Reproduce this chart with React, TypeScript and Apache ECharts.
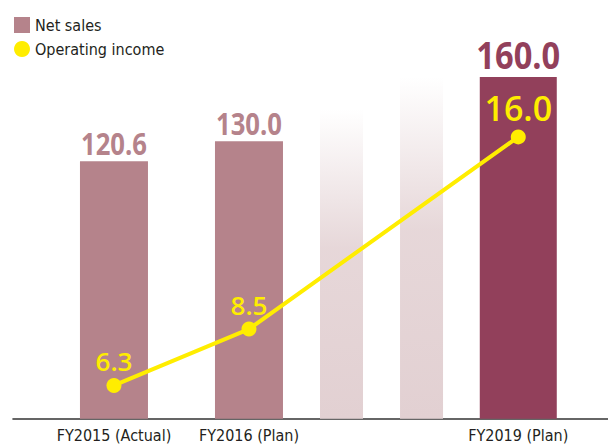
import React, { useEffect, useRef } from "react";
import * as echarts from "echarts";

// ---- data ----
const categories = ["FY2015 (Actual)", "FY2016 (Plan)", "FY2017", "FY2018", "FY2019 (Plan)"];
const axisLabels = ["FY2015 (Actual)", "FY2016 (Plan)", "", "", "FY2019 (Plan)"];
const netSales = [120.6, 130.0, 145, 160, 160.0];
const netSalesLabels = ["120.6", "130.0", "", "", "160.0"];
const operatingIncome: (number | null)[] = [6.3, 8.5, null, null, 16.0];

// ---- layout / style (not data) ----
const slotPositions = [16.97, 39.66, 55.21, 68.66, 84.92];
const barWidths = [68, 68, 43, 43, 77];
const PINK = "#b5838b";
const DARK = "#92405b";
const FADE = "#e2d0d2";
const YELLOW = "#ffed00";
const fadeFill = {
  type: "linear",
  x: 0,
  y: 0,
  x2: 0,
  y2: 1,
  colorStops: [
    { offset: 0, color: "rgba(226,208,210,0)" },
    { offset: 0.45, color: "rgba(226,208,210,0.85)" },
    { offset: 1, color: FADE },
  ],
};
const barFills: any[] = [PINK, PINK, fadeFill, fadeFill, DARK];
const barLabelColors = [PINK, PINK, PINK, PINK, DARK];
const barLabelSizes = [29.5, 29.5, 29.5, 29.5, 37.5];
const barLabelGaps = [3, 3, 3, 3, 4];
const lineLabelSizes = [26, 26, 26, 26, 34];
const NUM_FONT = "'Open Sans', 'Noto Sans', sans-serif";
const TEXT_FONT = "'DejaVu Sans Condensed', 'DejaVu Sans', sans-serif";

export default function App() {
  const ref = useRef<HTMLDivElement>(null);

  useEffect(() => {
    if (!ref.current) return;
    const chart = echarts.init(ref.current, null, { renderer: "svg" });

    const barData = netSales.map((v, i) => [slotPositions[i], v, i]);
    const lineData = operatingIncome
      .map((v, i) => ({ v, i }))
      .filter((d) => d.v !== null)
      .map((d) => ({
        value: [slotPositions[d.i], d.v as number],
        label: { fontSize: lineLabelSizes[d.i] },
      }));

    chart.setOption({
      animation: false,
      legend: {
        orient: "vertical",
        left: 14,
        top: 17,
        padding: 0,
        itemWidth: 16,
        itemHeight: 16,
        itemGap: 8,
        textStyle: { fontFamily: TEXT_FONT, fontSize: 16, color: "#231f20" },
        data: [
          { name: "Net sales", icon: "rect" },
          { name: "Operating income", icon: "circle" },
        ],
      },
      grid: { left: 13, right: 0, top: 34.4, bottom: 28.3 },
      xAxis: {
        type: "value",
        min: 0,
        max: 100,
        splitLine: { show: false },
        axisTick: { show: false },
        axisLine: { show: true, onZero: false, lineStyle: { color: "#333", width: 1.6 } },
        axisLabel: {
          customValues: slotPositions.filter((_, i) => axisLabels[i] !== ""),
          formatter: (val: number) => {
            const idx = slotPositions.findIndex((p) => Math.abs(p - val) < 1e-6);
            return idx >= 0 ? axisLabels[idx] : "";
          },
          fontFamily: TEXT_FONT,
          fontSize: 16,
          color: "#231f20",
          margin: 9,
        },
      },
      yAxis: [
        { type: "value", min: 0, max: 180, show: false, splitLine: { show: false } },
        { type: "value", min: 5, max: 20, show: false, splitLine: { show: false } },
      ],
      series: [
        {
          name: "Net sales",
          type: "custom",
          yAxisIndex: 0,
          itemStyle: { color: PINK },
          encode: { x: 0, y: 1 },
          data: barData,
          renderItem: (params: any, api: any) => {
            const idx = api.value(2);
            const top = api.coord([api.value(0), api.value(1)]);
            const base = api.coord([api.value(0), 0]);
            const w = barWidths[idx];
            return {
              type: "group",
              children: [
                {
                  type: "rect",
                  shape: { x: top[0] - w / 2, y: top[1], width: w, height: base[1] - top[1] },
                  style: { fill: barFills[idx] },
                },
                {
                  type: "text",
                  x: top[0],
                  y: top[1] - barLabelGaps[idx],
                  scaleX: 0.87,
                  style: {
                    text: netSalesLabels[idx],
                    fill: barLabelColors[idx],
                    font: `bold ${barLabelSizes[idx]}px ${NUM_FONT}`,
                    align: "center",
                    verticalAlign: "bottom",
                  },
                },
              ],
            };
          },
        },
        {
          name: "Operating income",
          type: "line",
          yAxisIndex: 1,
          data: lineData,
          symbol: "circle",
          symbolSize: 15,
          itemStyle: { color: YELLOW },
          lineStyle: { color: YELLOW, width: 4 },
          z: 5,
          label: {
            show: true,
            position: "top",
            distance: 4,
            color: YELLOW,
            fontFamily: NUM_FONT,
            fontWeight: 600,
            formatter: (p: any) => p.value[1].toFixed(1),
          },
        },
      ],
    });

    return () => chart.dispose();
  }, []);

  return (
    <div
      ref={ref}
      style={{ position: "absolute", left: 0, top: 0, width: 608, height: 447 }}
    />
  );
}
